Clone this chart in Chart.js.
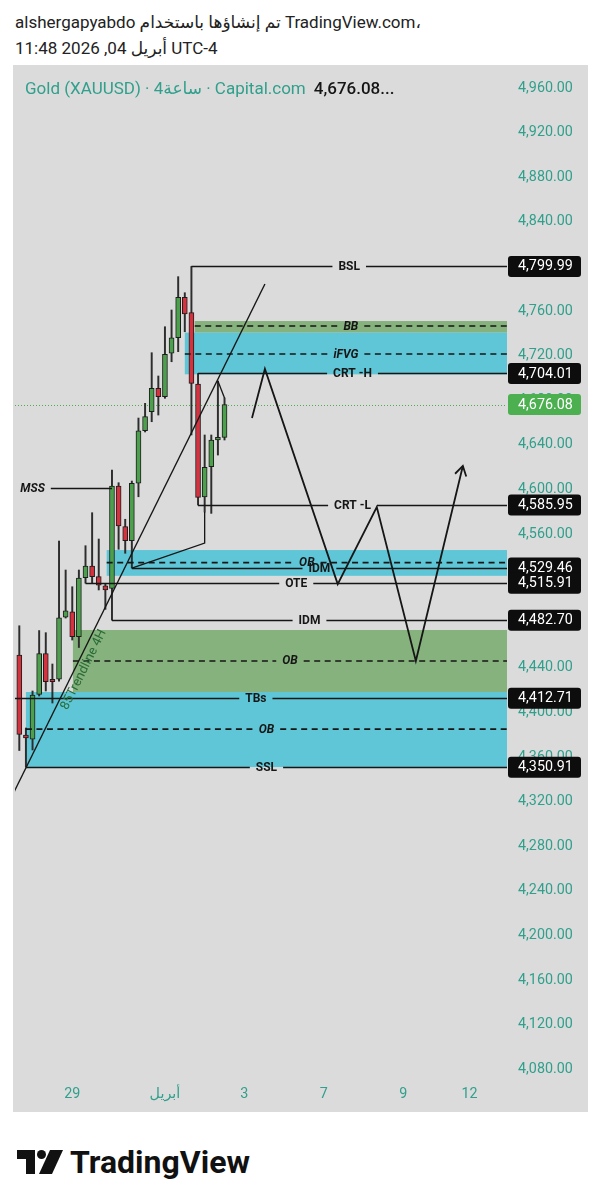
<!DOCTYPE html>
<html>
<head>
<meta charset="utf-8">
<script src="https://cdn.jsdelivr.net/npm/chart.js@4.4.1/dist/chart.umd.min.js"></script>
<style>
  body { margin: 0; width: 603px; height: 1200px; background: #fff; position: relative; overflow: hidden;
         font-family: Roboto, "DejaVu Sans", sans-serif; }
  .hdr { position: absolute; left: 15px; font-size: 17px; line-height: 22px; color: #222; white-space: nowrap; }
  #panel { position: absolute; left: 13px; top: 65px; width: 575px; height: 1047px; background: #dbdbdb; }
  #chart { position: absolute; left: 0; top: 0; }
  #title { position: absolute; left: 12px; top: 12px; z-index: 2; font-size: 17px; line-height: 22px;
           color: #30a08c; white-space: nowrap; }
  #title b { color: #151515; font-weight: 500; margin-left: 8px; }
  #logo { position: absolute; left: 17px; top: 1143px; display: flex; align-items: center; }
  #logo span { font-weight: 700; font-size: 32px; margin-left: 7px; color: #111; }
</style>
</head>
<body>
<div class="hdr" style="top:11px">alshergapyabdo تم إنشاؤها باستخدام TradingView.com،</div>
<div class="hdr" style="top:37px">11:48 2026 ,04 أبريل UTC-4</div>

<div id="panel">
  <div id="title">Gold (XAUUSD) · 4ساعة · Capital.com<b>4,676.08...</b></div>
  <canvas id="chart" width="575" height="1047"></canvas>
</div>

<div id="logo">
  <svg width="46" height="24" viewBox="0 0 46 24">
    <path d="M0 0H18V24H9V9H0Z" fill="#111"/>
    <circle cx="24.5" cy="4.5" r="4.5" fill="#111"/>
    <path d="M33 0H46L35 24H22Z" fill="#111"/>
  </svg>
  <span>TradingView</span>
</div>

<script>
// 4H candles, bar 0 = first visible bar on the left
const opens  = [4451.5, 4379.7, 4375.9, 4416.2, 4452.8, 4429.7, 4429.7, 4485.5, 4490.3, 4467.9,
                4520.8, 4531.3, 4521.7, 4513.6, 4511.3, 4603.0, 4566.6, 4554.0, 4605.5, 4652.6,
                4669.7, 4690.7, 4683.1, 4722.1, 4736.0, 4772.3, 4758.5, 4694.5, 4593.2, 4620.3,
                4644.3, 4646.7];
const highs  = [4477.7, 4386.0, 4419.2, 4473.4, 4471.5, 4443.4, 4553.7, 4527.7, 4512.7, 4527.7,
                4549.5, 4579.1, 4555.5, 4515.1, 4617.4, 4606.0, 4573.2, 4607.5, 4664.0, 4677.2,
                4722.6, 4701.7, 4745.9, 4760.9, 4790.8, 4776.4, 4799.99, 4704.01, 4648.8, 4648.8,
                4697.2, 4682.0];
const lows   = [4365.8, 4350.91, 4366.3, 4414.7, 4419.2, 4408.4, 4428.0, 4484.6, 4464.9, 4458.2,
                4515.91, 4515.8, 4509.8, 4492.4, 4482.70, 4546.3, 4542.7, 4529.46, 4593.4, 4651.5,
                4660.7, 4666.7, 4681.7, 4714.5, 4723.5, 4741.4, 4648.8, 4585.95, 4579.7, 4578.5,
                4630.8, 4644.3];
const closes = [4380.3, 4377.2, 4415.6, 4452.8, 4427.5, 4427.5, 4484.9, 4491.2, 4467.9, 4520.5,
                4531.3, 4521.7, 4514.2, 4509.8, 4603.0, 4567.2, 4554.0, 4605.5, 4652.6, 4665.2,
                4690.7, 4683.1, 4721.2, 4736.0, 4772.3, 4757.3, 4695.1, 4592.9, 4619.8, 4644.3,
                4646.7, 4676.08];

// axis ticks
const priceTicks = [4960, 4920, 4880, 4840, 4800, 4760, 4720, 4680, 4640, 4600, 4560, 4520,
                    4480, 4440, 4400, 4360, 4320, 4280, 4240, 4200, 4160, 4120, 4080];
const timeTickPos = [8, 22, 34, 46, 58, 68];
const timeTickLabels = ["29", "أبريل", "3", "7", "9", "12"];

// horizontal levels (from = bar where the drawing starts, to = null means it runs to the right edge)
const levelNames  = ["BSL", "CRT -H", "CRT -L", "IDM", "OTE", "IDM", "TBs", "SSL", "MSS"];
const levelPrices = [4799.99, 4704.01, 4585.95, 4529.46, 4515.91, 4482.70, 4412.71, 4350.91, 4601.2];
const levelFrom   = [26, 27, 27, 17, 10, 14, -2.2, 1, -10];
const levelTo     = [null, null, null, null, null, null, null, null, 14];

// zones
const zoneNames = ["BB", "iFVG", "OB", "OB", "OB"];
const zoneHigh  = [4751.0, 4740.6, 4545.6, 4473.9, 4418.3];
const zoneLow   = [4740.6, 4703.2, 4522.5, 4418.3, 4351.0];
const zoneMid   = [4746.5, 4721.4, 4534.3, 4446.1, 4385.0];
const zoneFrom  = [26.5, 25, 13.2, 8.1, 1];
const zoneType  = ["demand", "fvg", "fvg", "demand", "fvg"];

// projected path, trendline and small connectors
const pathX = [35.15, 37.1, 48.1, 54.0, 59.9, 67.0];
const pathY = [4664.0, 4708.0, 4515.1, 4584.2, 4446.1, 4621.0];
const trendX = [-1, 37.1];
const trendY = [4326.2, 4784.2];
const trendLabel = "85Trendline 4H";
const trendLabelAt = 8.6;
const idmLinkX = [17, 28, 28];
const idmLinkY = [4529.46, 4551.9, 4579.7];
const crtLinkX = [30, 31];
const crtLinkY = [4697.2, 4682.0];

const TEAL = "#30a08c";
const UP = "#4c9f4c";
const DOWN = "#d5323f";
const CYAN = "#5ec6d6";
const GREEN = "#86b27d";
const INK = "#161616";
const FONT = "Roboto, 'DejaVu Sans', sans-serif";

const fmt = (v) => v.toLocaleString("en-US", { minimumFractionDigits: 2, maximumFractionDigits: 2 });
const pts = (xs, ys) => xs.map((v, i) => ({ x: v, y: ys[i] }));

function lineSet(xs, ys, width) {
  return { type: "line", data: pts(xs, ys), borderColor: INK, borderWidth: width,
           pointRadius: 0, fill: false, tension: 0, order: 0 };
}

// line with a gap in the middle for its label
function labelledLine(ctx, x0, x1, yy, text, font, dash) {
  ctx.font = font;
  const mid = (x0 + x1) / 2;
  const gap = ctx.measureText(text).width / 2 + 6;
  ctx.setLineDash(dash);
  ctx.beginPath();
  ctx.moveTo(x0, yy); ctx.lineTo(mid - gap, yy);
  ctx.moveTo(mid + gap, yy); ctx.lineTo(x1, yy);
  ctx.stroke();
  ctx.setLineDash([]);
  ctx.fillText(text, mid, yy + 0.5);
}

const drawings = {
  id: "drawings",
  beforeDatasetsDraw(chart) {
    const { ctx, chartArea: a, scales: { x, y } } = chart;
    ctx.save();
    ctx.beginPath(); ctx.rect(a.left, a.top, a.width, a.height); ctx.clip();
    zoneHigh.forEach((hi, i) => {
      const x0 = x.getPixelForValue(zoneFrom[i]);
      const y0 = y.getPixelForValue(hi);
      const y1 = y.getPixelForValue(zoneLow[i]);
      ctx.fillStyle = zoneType[i] === "fvg" ? CYAN : GREEN;
      ctx.fillRect(x0, y0, a.right - x0, y1 - y0);
    });
    // last price dotted line
    const ly = Math.round(y.getPixelForValue(closes[closes.length - 1])) + 0.5;
    ctx.strokeStyle = "#4caf50";
    ctx.lineWidth = 1;
    ctx.setLineDash([1, 2]);
    ctx.beginPath(); ctx.moveTo(a.left, ly); ctx.lineTo(a.right, ly); ctx.stroke();
    ctx.restore();
  },
  afterDatasetsDraw(chart) {
    const { ctx, chartArea: a, scales: { x, y } } = chart;
    ctx.save();
    ctx.beginPath(); ctx.rect(a.left, a.top, a.width, a.height); ctx.clip();
    ctx.textAlign = "center";
    ctx.textBaseline = "middle";
    ctx.fillStyle = INK;
    ctx.strokeStyle = INK;

    // dashed middle lines of the zones
    ctx.lineWidth = 1.6;
    zoneMid.forEach((m, i) => {
      labelledLine(ctx, x.getPixelForValue(zoneFrom[i]), a.right, y.getPixelForValue(m),
        zoneNames[i], `italic bold 12px ${FONT}`, [6, 4.5]);
    });

    // levels
    ctx.lineWidth = 1.3;
    levelPrices.forEach((p, i) => {
      const x0 = x.getPixelForValue(levelFrom[i]);
      const x1 = levelTo[i] === null ? a.right : x.getPixelForValue(levelTo[i]);
      const font = levelNames[i] === "MSS" ? `italic bold 12px ${FONT}` : `bold 12px ${FONT}`;
      labelledLine(ctx, x0, x1, Math.round(y.getPixelForValue(p)) + 0.5, levelNames[i], font, []);
    });

    // arrow head at the end of the projected path
    const n = pathX.length;
    const tx = x.getPixelForValue(pathX[n - 1]), ty = y.getPixelForValue(pathY[n - 1]);
    const px = x.getPixelForValue(pathX[n - 2]), py = y.getPixelForValue(pathY[n - 2]);
    const ang = Math.atan2(ty - py, tx - px);
    ctx.lineWidth = 1.8;
    ctx.beginPath();
    ctx.moveTo(tx - 11 * Math.cos(ang - 0.55), ty - 11 * Math.sin(ang - 0.55));
    ctx.lineTo(tx, ty);
    ctx.lineTo(tx - 11 * Math.cos(ang + 0.55), ty - 11 * Math.sin(ang + 0.55));
    ctx.stroke();

    // trendline caption
    const x0 = x.getPixelForValue(trendX[0]), y0 = y.getPixelForValue(trendY[0]);
    const x1 = x.getPixelForValue(trendX[1]), y1 = y.getPixelForValue(trendY[1]);
    const cx = x.getPixelForValue(trendLabelAt);
    const cy = y0 + (cx - x0) * (y1 - y0) / (x1 - x0);
    ctx.translate(cx, cy);
    ctx.rotate(Math.atan2(y1 - y0, x1 - x0));
    ctx.font = `13px ${FONT}`;
    ctx.fillStyle = "#2b6b38";
    ctx.textBaseline = "top";
    ctx.fillText(trendLabel, 0, 2);
    ctx.restore();
  },
  afterDraw(chart) {
    const { ctx, chartArea: a, scales: { y } } = chart;
    const boxes = levelPrices.filter((p, i) => levelTo[i] === null).map((p) => ({ p, c: "#0d0d0d" }));
    boxes.push({ p: closes[closes.length - 1], c: "#4caf50" });
    ctx.save();
    ctx.font = `14.3px ${FONT}`;
    ctx.textAlign = "left";
    ctx.textBaseline = "middle";
    boxes.forEach((b) => {
      const yy = y.getPixelForValue(b.p);
      ctx.fillStyle = b.c;
      ctx.beginPath();
      ctx.roundRect(a.right + 1, yy - 10.5, 73, 21, 3);
      ctx.fill();
    });
    boxes.forEach((b) => {
      ctx.fillStyle = "#fff";
      ctx.fillText(fmt(b.p), a.right + 11, y.getPixelForValue(b.p) + 0.5);
    });
    ctx.restore();
  }
};

const bodyColors = opens.map((o, i) => (closes[i] >= o ? UP : DOWN));

new Chart(document.getElementById("chart"), {
  type: "bar",
  data: {
    datasets: [
      lineSet(pathX, pathY, 1.8),
      lineSet(trendX, trendY, 1.4),
      lineSet(idmLinkX, idmLinkY, 1.3),
      lineSet(crtLinkX, crtLinkY, 1.3),
      { type: "bar", data: opens.map((o, i) => ({ x: i, y: [o, closes[i]] })),
        backgroundColor: bodyColors, borderColor: "#1d1d1d", borderWidth: 1, borderSkipped: false,
        barThickness: 5, grouped: false, order: 1 },
      { type: "bar", data: highs.map((h, i) => ({ x: i, y: [lows[i], h] })),
        backgroundColor: "#2d2d2d", barThickness: 1.3, grouped: false, order: 2 }
    ]
  },
  options: {
    responsive: false,
    animation: false,
    events: [],
    layout: { padding: { left: 2, top: 3, right: 0, bottom: 0 } },
    plugins: { legend: { display: false }, tooltip: { enabled: false } },
    scales: {
      x: {
        type: "linear", min: -0.65, max: 73.67, offset: false,
        grid: { display: false, drawTicks: false, offset: false }, border: { display: false },
        ticks: { color: TEAL, font: { family: FONT, size: 14.3 }, padding: 6, maxRotation: 0, autoSkip: false,
                 callback: (v, i) => timeTickLabels[i] },
        afterBuildTicks: (s) => { s.ticks = timeTickPos.map((v) => ({ value: v })); },
        afterFit: (s) => { s.height = 32; s.paddingLeft = 0; s.paddingRight = 0; }
      },
      y: {
        position: "right", min: 4070.31, max: 4977.94,
        grid: { display: false, drawTicks: false }, border: { display: false },
        ticks: { color: TEAL, font: { family: FONT, size: 14.3 }, padding: 11, autoSkip: false,
                 callback: (v) => fmt(v) },
        afterBuildTicks: (s) => { s.ticks = priceTicks.map((v) => ({ value: v })); },
        afterFit: (s) => { s.width = 81; s.paddingTop = 0; s.paddingBottom = 0; }
      }
    }
  },
  plugins: [drawings]
});
</script>
</body>
</html>
